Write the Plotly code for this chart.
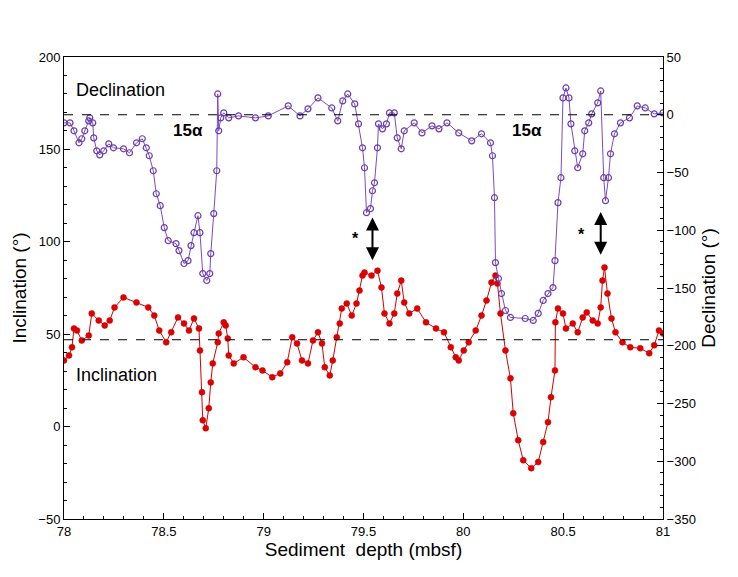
import plotly.graph_objects as go

decl_depth = [78.000,78.030,78.050,78.075,78.089,78.104,78.124,78.129,78.144,78.149,78.164,78.179,78.199,78.224,78.248,78.298,78.328,78.363,78.392,78.412,78.427,78.447,78.462,78.482,78.502,78.522,78.561,78.576,78.601,78.621,78.636,78.651,78.671,78.681,78.695,78.715,78.730,78.735,78.750,78.765,78.770,78.775,78.785,78.800,78.825,78.874,78.959,79.023,79.123,79.182,79.222,79.272,79.341,79.371,79.396,79.421,79.456,79.475,79.495,79.505,79.515,79.535,79.545,79.555,79.570,79.575,79.595,79.615,79.630,79.654,79.669,79.689,79.704,79.754,79.793,79.843,79.878,79.918,79.977,80.042,80.091,80.136,80.146,80.156,80.161,80.176,80.191,80.211,80.236,80.310,80.350,80.375,80.400,80.424,80.449,80.459,80.474,80.489,80.499,80.514,80.529,80.539,80.558,80.573,80.598,80.608,80.628,80.643,80.673,80.688,80.703,80.712,80.727,80.737,80.757,80.787,80.832,80.871,80.911,80.956,81.0]
decl_vals = [-7.0,-7.0,-13.9,-24.3,-20.8,-13.9,-5.3,-2.7,-7.0,-20.0,-31.2,-34.7,-31.2,-25.2,-28.6,-29.5,-32.9,-24.3,-20.8,-28.6,-35.5,-48.5,-68.4,-78.7,-97.7,-109.0,-111.6,-117.6,-128.8,-126.3,-113.3,-102.1,-87.4,-102.1,-137.5,-143.5,-137.5,-120.2,-85.6,-48.5,18.0,-13.9,-2.7,1.6,-2.7,-1.0,-2.7,-1.0,7.7,-1.0,5.1,14.6,5.9,-5.3,12.0,18.0,9.4,-7.9,-28.6,-45.9,-84.8,-81.3,-65.8,-58.9,-28.6,-7.9,-12.2,-7.9,1.6,1.6,-20.0,-29.5,-13.9,-7.0,-15.7,-9.6,-12.2,-7.0,-15.7,-22.6,-16.5,-24.3,-35.5,-71.8,-128.0,-141.8,-154.8,-169.5,-175.5,-176.4,-178.1,-172.0,-160.8,-154.8,-149.6,-126.3,-76.1,-54.5,14.6,23.2,14.6,-7.9,-31.2,-45.9,-33.8,-13.9,-7.0,0.8,10.3,20.6,-54.5,-74.4,-54.5,-33.8,-16.5,-7.0,-2.7,7.7,5.9,0.8,1.6]

incl_depth = [78.000,78.025,78.040,78.050,78.065,78.089,78.124,78.139,78.174,78.204,78.229,78.253,78.298,78.363,78.422,78.452,78.477,78.512,78.537,78.571,78.601,78.626,78.651,78.676,78.681,78.691,78.695,78.710,78.725,78.735,78.745,78.770,78.775,78.800,78.810,78.820,78.825,78.850,78.899,78.959,78.994,79.043,79.083,79.118,79.143,79.167,79.192,79.222,79.247,79.272,79.292,79.306,79.331,79.346,79.366,79.381,79.391,79.416,79.441,79.465,79.480,79.495,79.505,79.540,79.570,79.590,79.605,79.630,79.654,79.669,79.689,79.704,79.729,79.769,79.813,79.863,79.903,79.937,79.962,79.977,80.002,80.027,80.062,80.091,80.116,80.141,80.161,80.171,80.186,80.211,80.236,80.250,80.275,80.300,80.340,80.375,80.400,80.424,80.439,80.459,80.461,80.474,80.499,80.514,80.548,80.573,80.598,80.618,80.648,80.673,80.688,80.697,80.707,80.722,80.742,80.762,80.797,80.836,80.886,80.931,80.956,80.980,81.0]
incl_vals = [35.8,38.5,42.9,53.1,52.0,46.6,49.3,61.2,57.4,54.7,57.4,64.5,69.9,67.2,64.5,60.1,52.0,45.6,51.0,59.1,55.8,52.0,58.5,53.1,41.2,18.6,3.4,-0.9,9.9,23.9,34.2,45.6,50.4,56.4,54.7,47.7,38.5,34.2,37.5,32.1,30.4,26.7,28.8,34.8,48.3,45.0,35.8,34.2,46.6,51.0,45.0,32.1,27.7,35.8,48.3,55.8,63.9,66.6,60.1,66.6,73.6,81.7,83.4,81.7,84.4,75.3,61.2,55.8,61.2,72.0,79.0,67.2,61.2,63.9,56.4,53.1,51.0,42.9,37.5,35.8,41.2,45.6,52.0,60.1,68.2,78.0,81.7,77.4,61.2,41.2,26.1,7.2,-7.4,-18.2,-22.5,-19.2,-8.4,2.4,15.9,30.4,56.4,63.9,61.2,53.1,55.8,51.0,59.1,61.8,57.4,55.8,64.5,79.0,86.1,72.0,58.5,51.0,45.6,42.9,42.4,39.7,44.0,52.0,50.4]

incl_ref = 47
decl_ref = 0

font = dict(family="Liberation Sans, Arial, sans-serif", size=16, color="black")
fig = go.Figure()
fig.add_trace(go.Scatter(x=incl_depth, y=incl_vals, mode="lines+markers",
    line=dict(color="#d40000", width=1), marker=dict(color="#e00000", size=6, line=dict(color="#c00000", width=0.5)), yaxis="y"))
fig.add_trace(go.Scatter(x=decl_depth, y=decl_vals, mode="lines+markers",
    line=dict(color="#7a4cc0", width=1), marker=dict(symbol="circle-open", color="#6a3cb0", size=6, line=dict(width=1.2)), yaxis="y2"))
fig.add_shape(type="line", xref="paper", x0=0, x1=1, yref="y", y0=incl_ref, y1=incl_ref, line=dict(color="black", width=1, dash="dash"))
fig.add_shape(type="line", xref="paper", x0=0, x1=1, yref="y2", y0=decl_ref, y1=decl_ref, line=dict(color="black", width=1, dash="dash"))

ax = dict(showgrid=False, zeroline=False, showline=True, linecolor="black", linewidth=1, automargin=False,
          ticks="inside", ticklen=6, tickcolor="black", tickfont=dict(size=13))
fig.update_layout(
    width=738, height=577, plot_bgcolor="white", paper_bgcolor="white", font=font, showlegend=False,
    margin=dict(l=56, r=83, t=49, b=66),
    xaxis=dict(ax, range=[78, 81], dtick=0.5, mirror=True, minor=dict(ticks="inside", ticklen=3, dtick=0.1, tickcolor="black"),
               title=dict(text="Sediment  depth (mbsf)", standoff=4)),
    yaxis=dict(ax, range=[-50, 200], dtick=50, minor=dict(ticks="inside", ticklen=3, dtick=10, tickcolor="black"),
               title=dict(text="Inclination (°)", standoff=6)),
    yaxis2=dict(ax, range=[-350, 50], dtick=50, overlaying="y", side="right", minor=dict(ticks="inside", ticklen=3, dtick=10, tickcolor="black"),
                title=dict(text="Declination (°)", standoff=6)),
)
ann = [
    dict(x=78.05, y=182, text="Declination", xanchor="left", font=dict(size=18)),
    dict(x=78.05, y=28, text="Inclination", xanchor="left", font=dict(size=18)),
    dict(x=78.62, y=160, text="<b>15α</b>", font=dict(size=17)),
    dict(x=80.32, y=160, text="<b>15α</b>", font=dict(size=17)),
    dict(x=79.46, y=102, text="<b>*</b>", font=dict(size=16)),
    dict(x=80.59, y=104, text="<b>*</b>", font=dict(size=16)),
]
for a in ann:
    fig.add_annotation(xref="x", yref="y", showarrow=False, **a)
for xa, y0, y1 in [(79.545, 114, 90), (80.688, 117, 93)]:
    fig.add_annotation(xref="x", yref="y", x=xa, y=y1, ax=xa, ay=y0, axref="x", ayref="y", text="",
                       showarrow=True, arrowhead=2, arrowside="end+start", arrowsize=1.3, arrowwidth=2, arrowcolor="black")
fig.write_html("out.html")
